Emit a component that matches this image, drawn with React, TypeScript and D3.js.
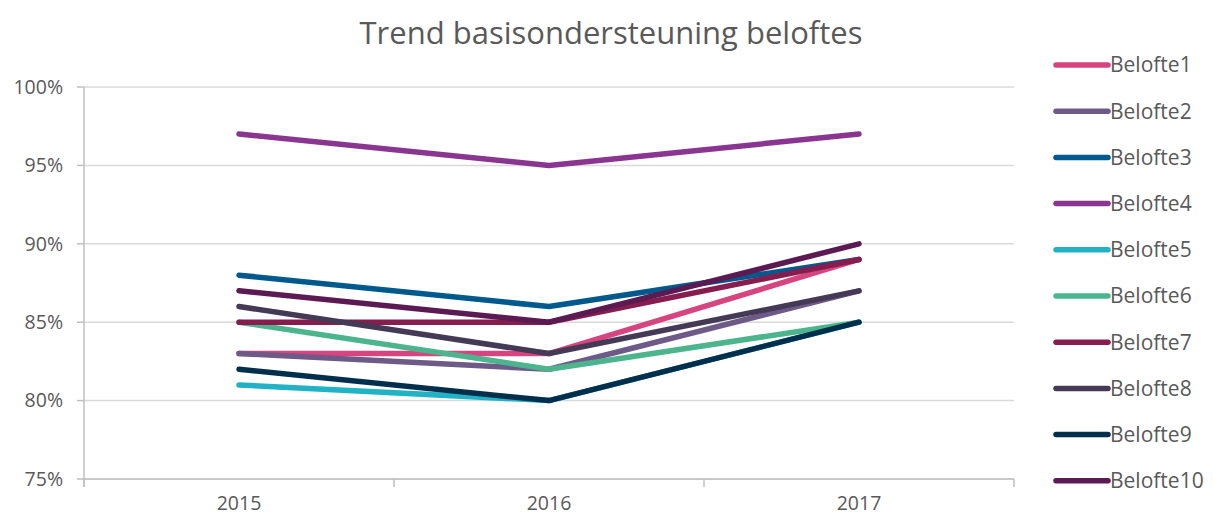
import React from 'react';
import * as d3 from 'd3';

const years = ['2015', '2016', '2017'];
const seriesNames = ['Belofte1', 'Belofte2', 'Belofte3', 'Belofte4', 'Belofte5', 'Belofte6', 'Belofte7', 'Belofte8', 'Belofte9', 'Belofte10'];
const belofte1 = [83, 83, 89];
const belofte2 = [83, 82, 87];
const belofte3 = [88, 86, 89];
const belofte4 = [97, 95, 97];
const belofte5 = [81, 80, 85];
const belofte6 = [85, 82, 85];
const belofte7 = [85, 85, 89];
const belofte8 = [86, 83, 87];
const belofte9 = [82, 80, 85];
const belofte10 = [87, 85, 90];
const seriesValues = [belofte1, belofte2, belofte3, belofte4, belofte5, belofte6, belofte7, belofte8, belofte9, belofte10];
const colors = ['#d6457f', '#6e5a86', '#00598c', '#8a3690', '#22b2c6', '#4cb58e', '#861d4e', '#453a55', '#002f4e', '#5b1b52'];
const yTicks = [75, 80, 85, 90, 95, 100];

const W = 1213;
const H = 518;
const margin = { left: 84, right: 199, top: 87, bottom: 39 };
const font = "'Open Sans', 'Noto Sans', sans-serif";

export default function App() {
  const x = d3.scaleBand().domain(years).range([margin.left, W - margin.right]);
  const y = d3.scaleLinear().domain([75, 100]).range([H - margin.bottom, margin.top]);
  const line = d3.line<number>()
    .x((_, i) => (x(years[i]) as number) + x.bandwidth() / 2)
    .y(d => y(d));
  const bottom = y(75);
  const boundaries = [...years.map(c => x(c) as number), W - margin.right];

  return (
    <svg width={W} height={H} style={{ position: 'absolute', left: 0, top: 0, fontFamily: font }}>
      <rect width={W} height={H} fill="#fff" />
      <text x={611} y={44} textAnchor="middle" fontSize={31} fill="#595959">Trend basisondersteuning beloftes</text>

      {/* gridlines + y ticks */}
      {yTicks.map(t => (
        <g key={t}>
          <line x1={margin.left} x2={W - margin.right} y1={y(t)} y2={y(t)} stroke="#d9d9d9" strokeWidth={1.5} />
          <line x1={margin.left - 7} x2={margin.left} y1={y(t)} y2={y(t)} stroke="#bfbfbf" strokeWidth={1.5} />
          <text x={63} y={y(t)} dy="0.35em" textAnchor="end" fontSize={19.5} fill="#595959">{t}%</text>
        </g>
      ))}
      <line x1={margin.left} x2={margin.left} y1={y(100)} y2={bottom + 8} stroke="#bfbfbf" strokeWidth={1.5} />
      <line x1={margin.left} x2={W - margin.right} y1={bottom} y2={bottom} stroke="#bfbfbf" strokeWidth={1.5} />
      {boundaries.map((b, i) => (
        <line key={i} x1={b} x2={b} y1={bottom} y2={bottom + 8} stroke="#bfbfbf" strokeWidth={1.5} />
      ))}
      {years.map(c => (
        <text key={c} x={(x(c) as number) + x.bandwidth() / 2} y={bottom + 31} textAnchor="middle" fontSize={19.5} fill="#595959">{c}</text>
      ))}

      {/* series */}
      {seriesValues.map((vals, i) => (
        <path key={seriesNames[i]} d={line(vals) || ''} fill="none" stroke={colors[i]} strokeWidth={5.5} strokeLinecap="round" strokeLinejoin="round" />
      ))}

      {/* legend */}
      {seriesNames.map((n, i) => {
        const ly = 65 + i * 46.2;
        return (
          <g key={n}>
            <line x1={1056} x2={1108} y1={ly} y2={ly} stroke={colors[i]} strokeWidth={5.5} strokeLinecap="round" />
            <text x={1110} y={ly} dy="0.35em" fontSize={21} fill="#595959">{n}</text>
          </g>
        );
      })}
    </svg>
  );
}
